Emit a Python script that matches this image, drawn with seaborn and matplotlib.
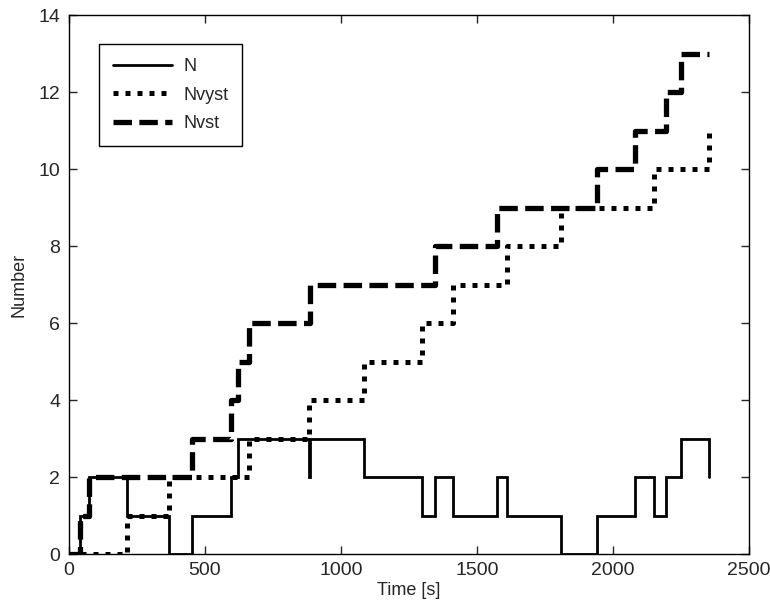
import matplotlib
matplotlib.use("Agg")
import matplotlib.pyplot as plt
import seaborn as sns

# Step data (change times in s, value after change)
t_n = [0, 43, 77, 215, 368, 452, 598, 622, 883, 886, 1087, 1297, 1347,
       1411, 1575, 1611, 1807, 1941, 2081, 2150, 2193, 2250, 2353]
n_vals = [0, 1, 2, 1, 0, 1, 2, 3, 2, 3, 2, 1, 2,
          1, 2, 1, 0, 1, 2, 1, 2, 3, 2]

t_nvyst = [0, 215, 368, 662, 883, 1087, 1297, 1411, 1611, 1807, 2150, 2353]
nvyst_vals = [0, 1, 2, 3, 4, 5, 6, 7, 8, 9, 10, 11]

t_nvst = [0, 43, 77, 452, 598, 622, 662, 886, 1347, 1575, 1941, 2081,
          2193, 2250, 2353]
nvst_vals = [0, 1, 2, 3, 4, 5, 6, 7, 8, 9, 10, 11, 12, 13, 13]

x_ticks = [0, 500, 1000, 1500, 2000, 2500]
y_ticks = [0, 2, 4, 6, 8, 10, 12, 14]

sns.set_style("ticks")
plt.rcParams['font.family'] = ['Liberation Sans Narrow', 'Liberation Sans', 'DejaVu Sans']

fig = plt.figure(figsize=(7.7, 6.13), dpi=100)
ax = fig.add_axes([0.089, 0.096, 0.884, 0.879])

common = dict(drawstyle='steps-post', color='black', estimator=None,
              sort=False, ax=ax, dash_capstyle='butt', solid_joinstyle='miter')
sns.lineplot(x=t_n, y=n_vals, linewidth=2.0, label='N', **common)
sns.lineplot(x=t_nvyst, y=nvyst_vals, linewidth=3.6, linestyle=(0, (1, 1.4)),
             label='Nvyst', **common)
sns.lineplot(x=t_nvst, y=nvst_vals, linewidth=3.8, linestyle=(0, (3.5, 1.4)),
             label='Nvst', **common)

ax.set_xlim(0, 2500)
ax.set_ylim(0, 14)
ax.set_xticks(x_ticks)
ax.set_yticks(y_ticks)
ax.tick_params(direction='in', length=6, width=1, top=True, right=True,
               labelsize=14, pad=6)
for sp in ax.spines.values():
    sp.set_linewidth(1.0)
    sp.set_color('black')
ax.set_xlabel('Time [s]', fontsize=13, labelpad=2)
ax.set_ylabel('Number', fontsize=13, labelpad=8)

leg = ax.legend(loc='upper left', bbox_to_anchor=(0.045, 0.946), borderaxespad=0,
                fontsize=13, handlelength=3.3, handletextpad=0.6, fancybox=False,
                framealpha=1, edgecolor='black', borderpad=0.75, labelspacing=0.65)
leg.get_frame().set_linewidth(1.0)

fig.savefig('out.png', dpi=100)
